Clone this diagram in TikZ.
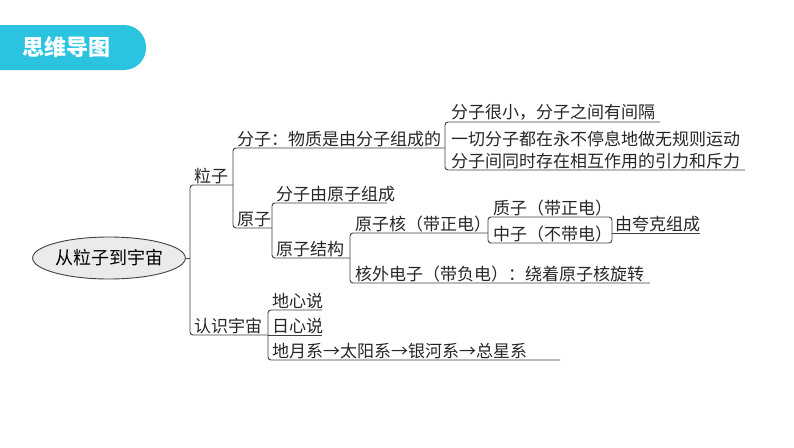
\documentclass[tikz,border=0pt]{standalone}
\usepackage{fontspec}
\usetikzlibrary{shapes.geometric}
\newfontfamily\cjk{Noto Sans CJK SC}
\begin{document}
\begin{tikzpicture}[x=1pt,y=-1pt,
  t/.style={anchor=south west,inner sep=1pt,font=\cjk\fontsize{17}{18}\selectfont,text=black!85},
  ln/.style={draw=black!75,line width=0.9pt,rounded corners=3pt}]
\useasboundingbox (0,0) rectangle (794,447);
\definecolor{tabc}{HTML}{2BC4E0}
% header
\fill[tabc,rounded corners=22pt] (-30,25) rectangle (146,70);
\node[font=\cjk\bfseries\fontsize{22}{23}\selectfont,text=white] (hd) at (66,47) {思维导图};
% root
\node[draw=black!75,fill=black!8,ellipse,line width=0.9pt,minimum width=134pt,minimum height=42pt,inner sep=0pt,font=\cjk\fontsize{18}{19}\selectfont] (root) at (109,258) {从粒子到宇宙};
\draw[ln] (root.east) -- (190,258);
\draw[ln] (233,185) -- (190,185) -- (190,335) -- (268,335);
% 粒子
\node[t] (lz) at (193,185) {粒子};
\draw[ln] (445,148) -- (233,148) -- (233,228) -- (272,228);
\node[t] (fz) at (236,148) {分子：物质是由分子组成的};
\node[t] (yz) at (236,228) {原子};
\draw[ln] (660,122) -- (445,122) -- (445,170) -- (745,170);
\node[t] (f1) at (450,122) {分子很小，分子之间有间隔};
\node[t] (f2) at (450,148) {一切分子都在永不停息地做无规则运动};
\node[t] (f3) at (450,170) {分子间同时存在相互作用的引力和斥力};
% 原子
\draw[ln] (387,203) -- (272,203) -- (272,258) -- (350,258);
\node[t] (y1) at (275,203) {分子由原子组成};
\node[t] (y2) at (275,258) {原子结构};
\draw[ln] (488,233) -- (350,233) -- (350,283) -- (650,283);
\node[t] (hz) at (354,233) {原子核（带正电）};
\node[t] (hw) at (354,283) {核外电子（带负电）：绕着原子核旋转};
\draw[ln] (488,217) rectangle (612,243);
\node[t] (zz) at (492,217) {质子（带正电）};
\node[t] (nz) at (492,243) {中子（不带电）};
\draw[ln] (612,233) -- (700,233);
\node[t] (qk) at (614,233) {由夸克组成};
% 宇宙
\node[t] (yc) at (193,335) {认识宇宙};
\draw[ln] (322,310) -- (268,310) -- (268,360) -- (560,360);
\draw[ln] (268,335) -- (322,335);
\node[t] (u1) at (271,310) {地心说};
\node[t] (u2) at (271,335) {日心说};
\node[t] (u3) at (271,360) {地月系→太阳系→银河系→总星系};
\end{tikzpicture}
\end{document}
